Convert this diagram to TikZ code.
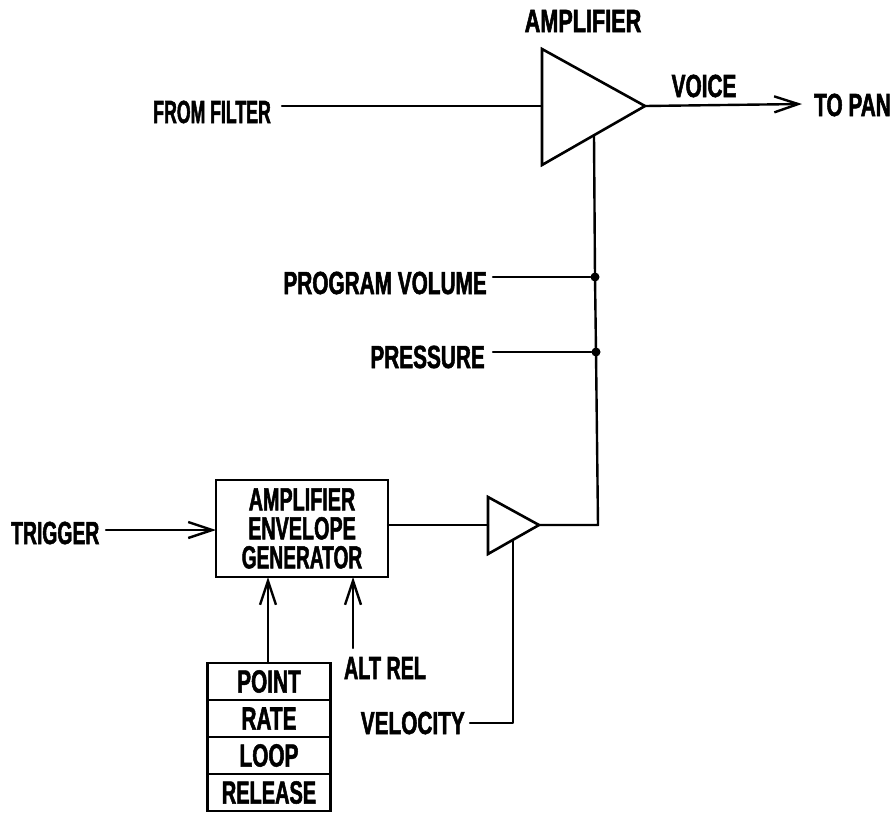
\documentclass[tikz,border=0pt]{standalone}
\usepackage{fontspec}
\usepackage{graphicx}
\setmainfont[FakeStretch=0.65,FakeBold=1.6]{Liberation Sans Bold}
\usetikzlibrary{arrows.meta,positioning}
\newcommand{\hs}[2]{\scalebox{#1}[1]{#2}}
\tikzset{
  lbl/.style={inner sep=0pt,font=\fontsize{32}{34}\selectfont,text=black},
  wire/.style={line width=2.4pt,line cap=round,line join=round},
  arr/.style={wire,-{Straight Barb[length=24pt,width=16pt,line width=2.4pt]}},
  tri/.style={line width=2.6pt,line join=miter,fill=white},
  cell/.style={draw,line width=2.2pt,outer sep=0pt,minimum width=123pt,minimum height=37pt,inner sep=0pt,font=\fontsize{32}{34}\selectfont},
  dot/.style={circle,fill=black,minimum size=9pt,inner sep=0pt}
}
\begin{document}
\begin{tikzpicture}[x=1pt,y=-1pt]
\useasboundingbox (0,0) rectangle (894,812);
% labels
\node[lbl] (ampl) at (583,21) {\hs{1.04}{AMPLIFIER}};
\node[lbl,anchor=east] (filter) at (271,112) {\hs{.85}{FROM FILTER}};
\node[lbl] (voice) at (704,86) {VOICE};
\node[lbl,anchor=east] (pan) at (891,105) {TO PAN};
\node[lbl,anchor=east] (prog) at (487,283) {PROGRAM VOLUME};
\node[lbl,anchor=east] (pres) at (485,357) {PRESSURE};
\node[lbl,anchor=west] (trig) at (11,533) {\hs{.93}{TRIGGER}};
\node[lbl] (alt) at (385,668) {\hs{.95}{ALT REL}};
\node[lbl,anchor=east] (vel) at (465,723) {VELOCITY};
% main amplifier
\coordinate (a1) at (542,49);
\coordinate (a2) at (542,165);
\coordinate (a3) at (645,106);
\coordinate (ain) at (542,106);
\coordinate (actl) at (594,136);
\draw[tri] (a1) -- (a3) -- (a2) -- cycle;
\coordinate (fs) at (282,106);
\draw[wire] (fs) -- (ain);
\coordinate (panend) at (802,104);
\draw[arr] (a3) -- (panend);
% envelope box
\node[draw,line width=2.6pt,outer sep=0pt,minimum width=172pt,minimum height=97pt,inner sep=0pt,align=center,
  font=\fontsize{32}{29}\selectfont] (env) at (302,528.5) {\hs{.95}{AMPLIFIER}\\\hs{.95}{ENVELOPE}\\\hs{.92}{GENERATOR}};
% small amp
\coordinate (b1) at (488,497);
\coordinate (b2) at (488,554);
\coordinate (b3) at (539,525);
\coordinate (bin) at (488,525);
\coordinate (bctl) at (513,540);
\draw[tri] (b1) -- (b3) -- (b2) -- cycle;
\draw[wire] (env.east |- bin) -- (bin);
% control line
\coordinate (c) at (598,525);
\node[dot] (d1) at (595,277) {};
\node[dot] (d2) at (596,352) {};
\draw[wire] (b3) -- (c) -- (d2.center) -- (d1.center) -- (actl);
\coordinate (ps) at (493,277);
\coordinate (qs) at (493,352);
\draw[wire] (ps) -- (d1);
\draw[wire] (qs) -- (d2);
% trigger
\coordinate (ts) at (106,530);
\draw[arr] (ts) -- (ts -| env.west);
% table
\node[cell] (point) at (269,681.5) {POINT};
\node[cell,below=0pt of point] (rate) {RATE};
\node[cell,below=0pt of rate] (loop) {LOOP};
\node[cell,below=0pt of loop] (rel) {\hs{.96}{RELEASE}};
\coordinate (pt) at (268,663);
\draw[arr] (pt) -- (pt |- env.south);
\coordinate (as) at (353,648);
\draw[arr] (as) -- (as |- env.south);
% velocity
\coordinate (vc) at (513,723);
\coordinate (vs) at (470,723);
\draw[wire] (vs) -- (vc) -- (bctl);
\end{tikzpicture}
\end{document}
